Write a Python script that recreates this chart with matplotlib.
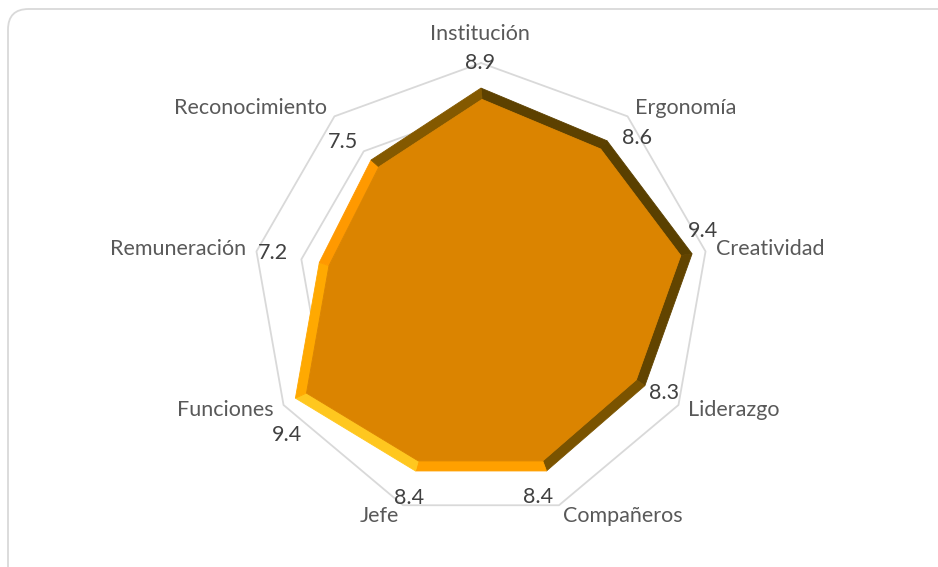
import numpy as np
import matplotlib.pyplot as plt
from matplotlib.patches import Polygon, FancyBboxPatch
from matplotlib.colors import LinearSegmentedColormap

plt.rcParams['font.family'] = ['Lato', 'DejaVu Sans']

categories = ['Institución', 'Ergonomía', 'Creatividad', 'Liderazgo', 'Compañeros',
              'Jefe', 'Funciones', 'Remuneración', 'Reconocimiento']
values = [8.9, 8.6, 9.4, 8.3, 8.4, 8.4, 9.4, 7.2, 7.5]
value_labels = ['8.9', '8.6', '9.4', '8.3', '8.4', '8.4', '9.4', '7.2', '7.5']
rings = [2, 4, 6, 8, 10]
r_max = 10

# label nudges in pixels (Excel puts the value labels in odd spots)
val_off = [(-1, 0), (9, -22), (-3, 20), (-14, 12), (-21, 8),
           (6, 7), (3, -30), (16, -2), (9, -26)]

n = len(categories)
ang = np.deg2rad(90 - 40 * np.arange(n))
fs = 15.5

fig = plt.figure(figsize=(9.38, 5.67), dpi=100)
fig.patch.set_facecolor('white')

# chart frame (rounded, runs off the right/bottom edge)
frame = FancyBboxPatch((8 / 938, -0.05), 1.1, (567 - 9) / 567 + 0.05,
                       boxstyle='round,pad=0,rounding_size=0.022',
                       transform=fig.transFigure, facecolor='none',
                       edgecolor='#d9d9d9', linewidth=1.3, mutation_aspect=938 / 567)
fig.patches.append(frame)

ax = fig.add_axes([0, 0, 1, 1])
px = 22.8  # pixels per unit
cx, cy = 481, 567 - 291
ax.set_xlim(-cx / px, (938 - cx) / px)
ax.set_ylim(-cy / px, (567 - cy) / px)
ax.set_aspect('equal')
ax.axis('off')

# grid rings
for r in rings:
    xs = np.r_[r * np.cos(ang), r * np.cos(ang[0])]
    ys = np.r_[r * np.sin(ang), r * np.sin(ang[0])]
    ax.plot(xs, ys, color='#d9d9d9', lw=1.3, zorder=1)

# data polygon with a fake bevel
v = np.array(values)
P = np.c_[v * np.cos(ang), v * np.sin(ang)]
w = 0.44

# inset polygon: offset each edge inward, intersect neighbours
edges = []
for i in range(n):
    a, b = P[i], P[(i + 1) % n]
    d = (b - a) / np.linalg.norm(b - a)
    nrm = np.array([-d[1], d[0]])  # outward, points go clockwise
    edges.append((a - nrm * w, d, nrm))

Q = []
for i in range(n):
    p1, d1, _ = edges[i - 1]
    p2, d2, _ = edges[i]
    A = np.array([d1, -d2]).T
    t = np.linalg.solve(A, p2 - p1)
    Q.append(p1 + t[0] * d1)
Q = np.array(Q)

bevel = LinearSegmentedColormap.from_list(
    'bevel', [(0, '#5a4000'), (0.3, '#664600'), (0.45, '#7a5300'),
              (0.55, '#9a6600'), (0.7, '#ff9400'), (0.85, '#ffa800'),
              (1.0, '#ffd22a')])
light = np.deg2rad(-145)

for i in range(n):
    j = (i + 1) % n
    nrm = edges[i][2]
    phi = np.arctan2(nrm[1], nrm[0])
    t = (np.cos(phi - light) + 1) / 2
    c = bevel(t)
    ax.add_patch(Polygon([P[i], P[j], Q[j], Q[i]], closed=True,
                         facecolor=c, edgecolor=c, lw=0.6, zorder=3))

ax.add_patch(Polygon(Q, closed=True, facecolor='#db8400', edgecolor='#db8400',
                     lw=0.6, zorder=4))

# category labels
for i, name in enumerate(categories):
    ca, sa = np.cos(ang[i]), np.sin(ang[i])
    x0, y0 = r_max * ca, r_max * sa
    if abs(ca) < 0.1:
        ax.annotate(name, (x0, y0), xytext=(-1, 29), textcoords='offset pixels',
                    ha='center', va='center', fontsize=fs, color='#595959', zorder=6)
        continue
    ha = 'left' if ca > 0 else 'right'
    ax.annotate(name, (x0, y0), xytext=(11 * ca, 11 * sa), textcoords='offset pixels',
                ha=ha, va='center', fontsize=fs, color='#595959', zorder=6)

# value labels
for i, lab in enumerate(value_labels):
    x0, y0 = r_max * np.cos(ang[i]), r_max * np.sin(ang[i])
    ax.annotate(lab, (x0, y0), xytext=val_off[i], textcoords='offset pixels',
                ha='center', va='center', fontsize=fs, color='#404040', zorder=6)

fig.savefig('out.png', dpi=100, facecolor='white')
